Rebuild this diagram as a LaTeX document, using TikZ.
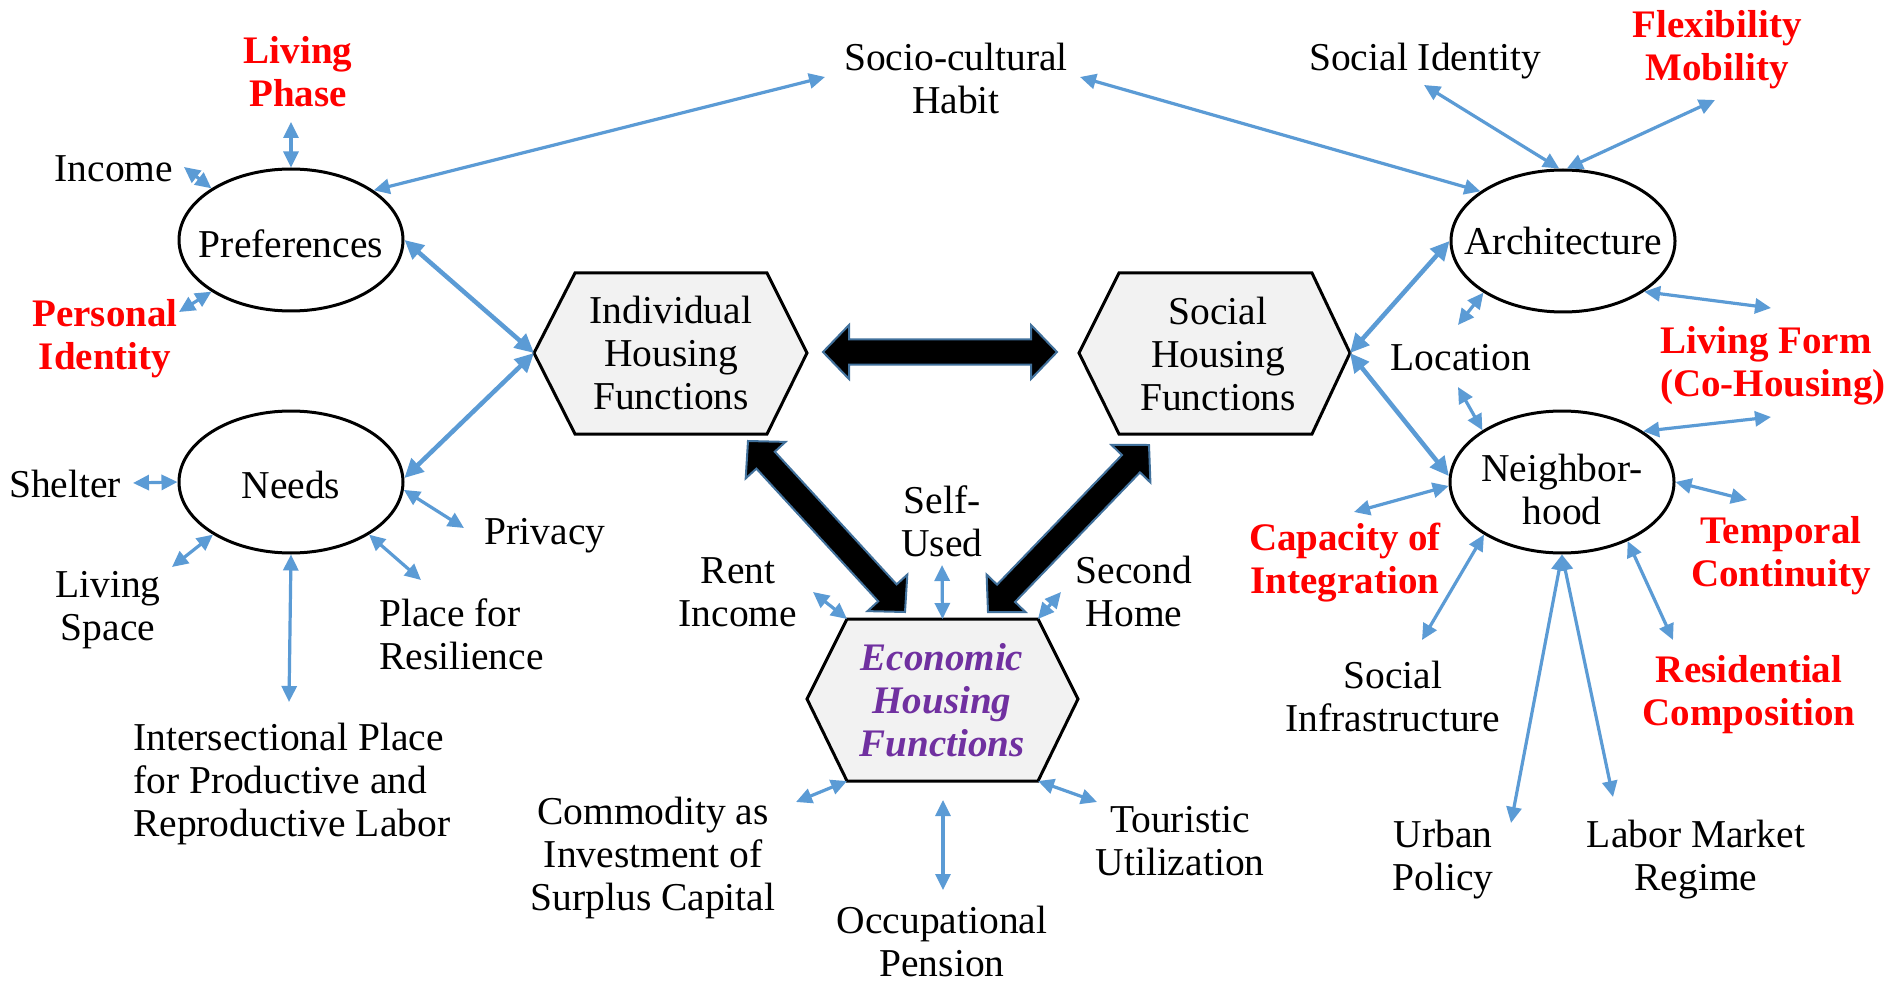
\documentclass[tikz,border=0pt]{standalone}
\usepackage{fontspec}
\setmainfont{Liberation Serif}
\usetikzlibrary{arrows.meta,shapes.geometric,calc}
\definecolor{ablue}{HTML}{5B9BD5}
\definecolor{bord}{HTML}{41719C}
\definecolor{purp}{HTML}{7030A0}
\definecolor{hexfill}{HTML}{F2F2F2}
\definecolor{hred}{HTML}{FF0000}
\newcommand\blockarr[2]{%
  \coordinate (#1a) at ($(#1)!26pt!(#2)$);
  \coordinate (#1b) at ($(#2)!26pt!(#1)$);
  \filldraw[blk] (#1) -- ($(#1a)!27pt!90:(#2)$) -- ($(#1a)!12.5pt!90:(#2)$)
    -- ($(#1b)!12.5pt!-90:(#1)$) -- ($(#1b)!27pt!-90:(#1)$) -- (#2)
    -- ($(#1b)!27pt!90:(#1)$) -- ($(#1b)!12.5pt!90:(#1)$)
    -- ($(#1a)!12.5pt!-90:(#2)$) -- ($(#1a)!27pt!-90:(#2)$) -- cycle;}
\begin{document}
\begin{tikzpicture}[x=1pt,y=-1pt,
  lab/.style={inner sep=0pt, align=center, font=\fontsize{39.5}{43}\selectfont},
  rlab/.style={lab, text=hred, font=\fontsize{39}{43}\selectfont\bfseries},
  ell/.style={ellipse, draw=black, line width=3pt, minimum width=224pt, minimum height=142pt, inner sep=0pt},
  hex/.style={draw=black, line width=3pt, fill=hexfill, line join=miter},
  ar/.style={draw=ablue, line width=3.2pt, {Triangle[length=16pt,width=15pt]}-{Triangle[length=16pt,width=15pt]}},
  art/.style={draw=ablue, line width=4.5pt, {Triangle[length=19pt,width=18pt]}-{Triangle[length=19pt,width=18pt]}},
  blk/.style={fill=black, draw=bord, line width=2pt, line join=miter}]
\useasboundingbox[fill=white] (0,0) rectangle (1889,981);

% hexagon vertices
\coordinate (IW) at (534,353); \coordinate (INW) at (575,273); \coordinate (INE) at (767,273);
\coordinate (IE) at (807,353); \coordinate (ISE) at (767,434); \coordinate (ISW) at (575,434);
\coordinate (SW) at (1079,353); \coordinate (SNW) at (1119,273); \coordinate (SNE) at (1312,273);
\coordinate (SE) at (1350,353); \coordinate (SSE) at (1312,434); \coordinate (SSW) at (1119,434);
\coordinate (EW) at (807,699); \coordinate (ENW) at (847,619); \coordinate (ENE) at (1038,619);
\coordinate (EE) at (1078,699); \coordinate (ESE) at (1038,781); \coordinate (ESW) at (847,781);
\coordinate (ENm) at (942.5,619);

\draw[hex] (IW) -- (INW) -- (INE) -- (IE) -- (ISE) -- (ISW) -- cycle;
\draw[hex] (SW) -- (SNW) -- (SNE) -- (SE) -- (SSE) -- (SSW) -- cycle;
\draw[hex] (EW) -- (ENW) -- (ENE) -- (EE) -- (ESE) -- (ESW) -- cycle;

\node[lab] (indiv) at (671,353) {Individual\\Housing\\Functions};
\node[lab] (social) at (1218,354) {Social\\Housing\\Functions};
\node[lab, text=purp, font=\fontsize{39}{43}\selectfont\bfseries\itshape] (econ) at (942,700) {Economic\\Housing\\Functions};

% ellipses
\node[ell, label={[lab, yshift=-4pt]center:Preferences}] (pref) at (291,240) {};
\node[ell, label={[lab, yshift=-3pt]center:Needs}] (needs) at (291,482) {};
\node[ell, label={[lab]center:Architecture}] (arch) at (1563,241) {};
\node[ell, label={[lab, yshift=-7pt]center:Neighbor-\\hood}] (neigh) at (1562,482) {};

% labels
\node[rlab] (livph) at (298,72) {Living\\Phase};
\node[lab] (income) at (114,169) {Income};
\node[rlab] (persid) at (105,339) {Personal\\Identity};
\node[lab] (socio) at (956,78) {Socio-cultural\\Habit};
\node[lab] (socid) at (1425,61) {Social Identity};
\node[rlab] (flex) at (1717,50) {Flexibility\\Mobility};
\node[lab] (location) at (1461,358) {Location};
\node[rlab, anchor=west, align=left] (livform) at (1660,366) {Living Form\\(Co-Housing)};
\node[lab] (shelter) at (65,484) {Shelter};
\node[lab] (privacy) at (545,536) {Privacy};
\node[lab] (livspace) at (108,610) {Living\\Space};
\node[lab, anchor=west, align=left] (place) at (379,634) {Place for\\Resilience};
\node[lab, anchor=west, align=left] (inters) at (133,784) {Intersectional Place\\for Productive and\\Reproductive Labor};
\node[lab] (rent) at (738,592) {Rent\\Income};
\node[lab] (self) at (942,521) {Self-\\Used};
\node[lab] (second) at (1134,591) {Second\\Home};
\node[lab] (commodity) at (653,858) {Commodity as\\Investment of\\Surplus Capital};
\node[lab] (occup) at (942,941) {Occupational\\Pension};
\node[lab] (touristic) at (1180,841) {Touristic\\Utilization};
\node[rlab] (capacity) at (1345,563) {Capacity of\\Integration};
\node[lab] (socinfra) at (1393,696) {Social\\Infrastructure};
\node[lab] (urban) at (1443,860) {Urban\\Policy};
\node[lab] (labor) at (1696,860) {Labor Market\\Regime};
\node[rlab] (temporal) at (1781,556) {Temporal\\Continuity};
\node[rlab] (resid) at (1749,695) {Residential\\Composition};

% block arrows
\coordinate (hA) at (823,352); \coordinate (hB) at (1057,352);
\coordinate (lA) at (748,441); \coordinate (lB) at (905,612);
\coordinate (rA) at (988,612); \coordinate (rB) at (1149,445);
\blockarr{hA}{hB}
\blockarr{lA}{lB}
\blockarr{rA}{rB}

% free ends
\coordinate (c-lp) at (291,122); \coordinate (c-inc) at (184,167); \coordinate (c-pid) at (179,312);
\coordinate (c-so1) at (825,77); \coordinate (c-so2) at (1080,77);
\coordinate (c-shel) at (133,483); \coordinate (c-priv) at (464,528); \coordinate (c-lsp) at (172,567);
\coordinate (c-place) at (421,580); \coordinate (c-inter) at (289,702);
\coordinate (c-rent) at (813,592); \coordinate (c-self) at (942,565); \coordinate (c-second) at (1061,592);
\coordinate (c-comm) at (796,802); \coordinate (c-occ1) at (943,800); \coordinate (c-occ2) at (943,890);
\coordinate (c-tour) at (1097,802);
\coordinate (c-sid) at (1424,85); \coordinate (c-flex) at (1715,100);
\coordinate (c-loc1) at (1458,325); \coordinate (c-lf1) at (1771,308);
\coordinate (c-loc2) at (1458,387); \coordinate (c-lf2) at (1771,417);
\coordinate (c-cap) at (1354,512); \coordinate (c-sinf) at (1422,640);
\coordinate (c-urb) at (1511,823); \coordinate (c-lab) at (1613,797);
\coordinate (c-temp) at (1747,500); \coordinate (c-res) at (1673,640);

% thick blue arrows
\draw[art] (pref.east) -- (IW);
\draw[art] (needs.2) -- (IW);
\draw[art] (SE) -- (arch.west);
\draw[art] (SE) -- (neigh.177);

% thin blue arrows
\draw[ar] (c-lp) -- (pref.north);
\draw[ar] (c-inc) -- (pref.147);
\draw[ar] (c-pid) -- (pref.213);
\draw[ar] (c-so1) -- (pref.31);
\draw[ar] (c-so2) -- (arch.149);
\draw[ar] (c-shel) -- (needs.west);
\draw[ar] (needs.-4) -- (c-priv);
\draw[ar] (c-lsp) -- (needs.214);
\draw[ar] (needs.-34) -- (c-place);
\draw[ar] (needs.south) -- (c-inter);
\draw[ar] (c-rent) -- (ENW);
\draw[ar] (c-self) -- (ENm);
\draw[ar] (c-second) -- (ENE);
\draw[ar] (c-comm) -- (ESW);
\draw[ar] (c-occ1) -- (c-occ2);
\draw[ar] (ESE) -- (c-tour);
\draw[ar] (c-sid) -- (arch.93);
\draw[ar] (c-flex) -- (arch.87);
\draw[ar] (c-loc1) -- (arch.213);
\draw[ar] (arch.-32) -- (c-lf1);
\draw[ar] (c-loc2) -- (neigh.147);
\draw[ar] (neigh.32) -- (c-lf2);
\draw[ar] (c-cap) -- (neigh.182);
\draw[ar] (c-sinf) -- (neigh.214);
\draw[ar] (neigh.south) -- (c-urb);
\draw[ar] (neigh.south) -- (c-lab);
\draw[ar] (neigh.east) -- (c-temp);
\draw[ar] (neigh.-42) -- (c-res);
\end{tikzpicture}
\end{document}
